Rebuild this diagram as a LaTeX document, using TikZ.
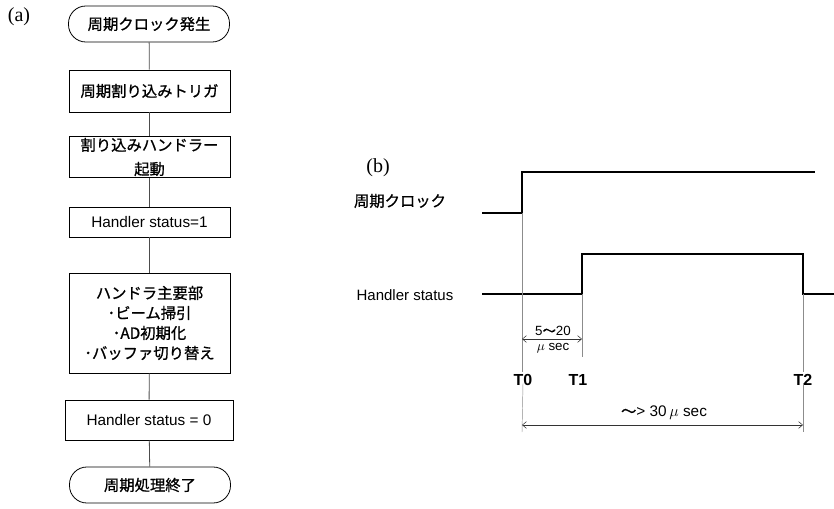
\documentclass[tikz,border=0pt]{standalone}
\usepackage{fontspec}
\setmainfont{Liberation Sans}
\newfontfamily\jp[FakeBold=0.9]{Noto Sans CJK JP}
\newfontfamily\serifl{Liberation Serif}
\usetikzlibrary{arrows.meta}
\begin{document}
\begin{tikzpicture}[x=0.75pt,y=-0.75pt,
  fbox/.style={draw,line width=0.6pt,minimum width=161*0.75pt,align=center,inner sep=1pt,font=\fontsize{11.5}{15}\selectfont},
  term/.style={fbox,rounded corners=13pt,minimum height=36*0.75pt},
  flow/.style={line width=0.6pt,draw=black!70},
  sig/.style={line width=1.5pt,line join=miter},
  guide/.style={line width=0.35pt,draw=black!45},
  dim/.style={line width=0.4pt,draw=black!80,{Straight Barb[length=3pt,width=5pt]}-{Straight Barb[length=3pt,width=5pt]}},
  lab/.style={font=\serifl\fontsize{15}{18}\selectfont},
  tl/.style={font=\bfseries\fontsize{12}{14}\selectfont,inner sep=1pt}]
\useasboundingbox (0,0) rectangle (834,509);

% (a) flowchart
\node[lab] (la) at (19,17) {(a)};
\node[term] (t1) at (149,24) {\jp 周期クロック発生};
\node[fbox,minimum height=42*0.75pt] (b2) at (149.5,91) {\jp 周期割り込みトリガ};
\node[fbox,minimum height=40*0.75pt,font=\fontsize{11.5}{18}\selectfont] (b3) at (149.5,157) {\jp 割り込みハンドラー\\\jp 起動};
\node[fbox,minimum height=30*0.75pt] (b4) at (149.5,222) {Handler status=1};
\node[fbox,minimum height=100*0.75pt] (b5) at (149.5,323) {\jp ハンドラ主要部\\\jp ･ビーム掃引\\\jp ･AD初期化\\\jp ･バッファ切り替え};
\node[fbox,minimum height=40*0.75pt,minimum width=168*0.75pt] (b6) at (149,420) {Handler status = 0};
\node[term] (t7) at (150,485) {\jp 周期処理終了};
\draw[flow] (t1) -- (b2);
\draw[flow] (b2) -- (b3);
\draw[flow] (b3) -- (b4);
\draw[flow] (b4) -- (b5);
\draw[flow] (b5) -- (b6);
\draw[flow] (b6) -- (t7);

% (b) timing diagram
\node[lab] (lb) at (378,168) {(b)};
\node[font=\jp\fontsize{11.5}{14}\selectfont] (sclk) at (400,201) {周期クロック};
\node[font=\fontsize{11.25}{14}\selectfont] (shs) at (405,295) {Handler status};

\coordinate (c0) at (482,213);
\coordinate (c1) at (522,213);
\coordinate (c2) at (522,172);
\coordinate (c3) at (815,172);
\draw[sig] (c0) -- (c1) -- (c2) -- (c3);

\coordinate (h0) at (482,294);
\coordinate (h1) at (582,294);
\coordinate (h2) at (582,254);
\coordinate (h3) at (803,254);
\coordinate (h4) at (803,294);
\coordinate (h5) at (834,294);
\draw[sig] (h0) -- (h1) -- (h2) -- (h3) -- (h4) -- (h5);

\node[tl] (T0) at (523,380) {T0};
\node[tl] (T1) at (578,380) {T1};
\node[tl] (T2) at (803,380) {T2};

\coordinate (g0a) at (522,372);
\coordinate (g1a) at (582,357);
\coordinate (g2a) at (803,372);
\coordinate (g0b) at (522,432);
\coordinate (g2b) at (803,432);
\draw[guide] (c1) -- (g0a);
\draw[guide] (h1) -- (g1a);
\draw[guide] (h4) -- (g2a);
\draw[guide] (T0.south) ++(0,-4) -- (g0b);
\draw[guide] (T2.south) ++(0,-4) -- (g2b);

\coordinate (a1l) at (522,339);
\coordinate (a1r) at (582,339);
\draw[dim] (a1l) -- (a1r);
\node[font=\fontsize{10}{11}\selectfont,inner sep=1pt] (d1) at (553,331) {5{\jp 〜}20};
\node[font=\fontsize{10}{11}\selectfont,inner sep=1pt] (d2) at (553,348) {$\mu$ sec};

\coordinate (a2l) at (522,425);
\coordinate (a2r) at (803,425);
\draw[dim] (a2l) -- (a2r);
\node[font=\fontsize{11.5}{13}\selectfont,inner sep=1pt] (d3) at (664,413) {{\jp 〜}{\textgreater} 30$\,\mu$ sec};
\end{tikzpicture}
\end{document}
